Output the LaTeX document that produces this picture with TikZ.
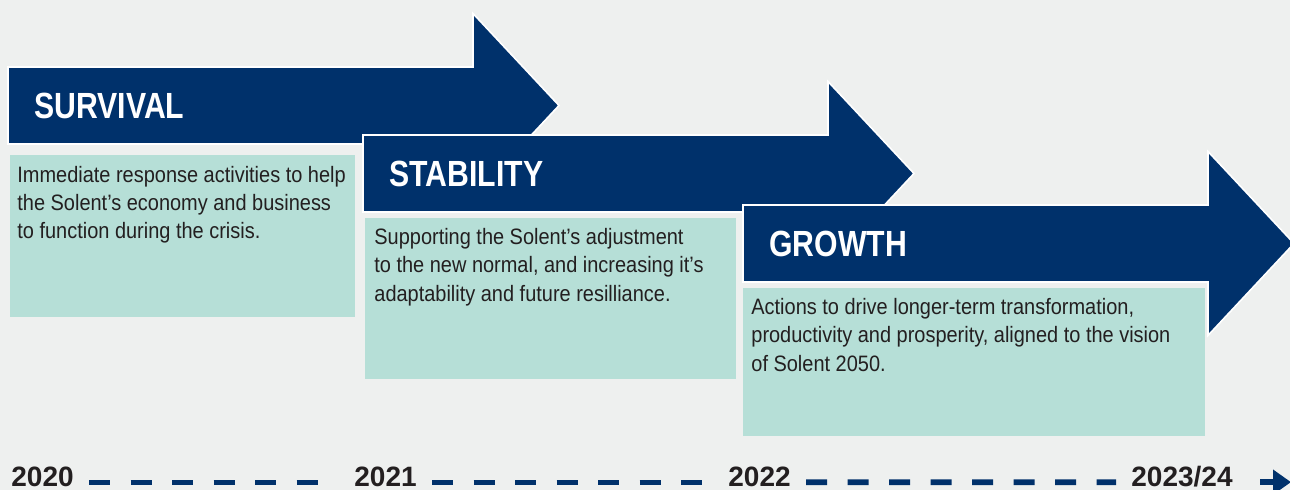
\documentclass[tikz,border=0pt]{standalone}
\usepackage{fontspec}
\usepackage{tikz}
\usepackage{xcolor}
\usetikzlibrary{arrows.meta, positioning, calc}

\setmainfont{Liberation Sans}
\newfontfamily\titlefont[FakeStretch=0.83]{Liberation Sans}
\newfontfamily\bodyfont[FakeStretch=0.895]{Liberation Sans}

\definecolor{navy}{HTML}{00316B}
\definecolor{paleteal}{HTML}{B6DFD7}
\definecolor{paper}{HTML}{EEF0EF}
\definecolor{ink}{HTML}{231F20}

\begin{document}
\begin{tikzpicture}[x=0.5pt, y=-0.5pt,
  phasearrow/.style={fill=navy, draw=white, line width=0.8pt},
  phasetitle/.style={anchor=west, inner sep=0pt, text=white, font=\titlefont\bfseries\fontsize{18.2}{20}\selectfont},
  descbox/.style={fill=paleteal},
  desc/.style={anchor=north west, inner sep=0pt, align=left, text=ink, font=\bodyfont\fontsize{11.15}{14.2}\selectfont},
  year/.style={anchor=base west, inner sep=0pt, text=ink, font=\bfseries\fontsize{14}{16}\selectfont},
  timeline/.style={navy, line width=2.85pt, dash pattern=on 10.5pt off 10.25pt,
    shorten <=7.5pt, shorten >=7.5pt, transform canvas={yshift=-2.5pt}}
]
% Background
\fill[paper] (0,0) rectangle (1290,490);
\useasboundingbox (0,0) rectangle (1290,490);

% Phase arrows
\foreach \ax/\ay/\name/\ttl in {8/67/survival/SURVIVAL, 363/135/stability/STABILITY, 743/205/growth/GROWTH} {
    \draw[phasearrow] (\ax,\ay) -- ++(465,0) -- ++(0,-53.5) -- ++(86,92) -- ++(-86,92) -- ++(0,-53.5) -- ++(-465,0) -- cycle;
    \node[phasetitle] (t-\name) at (\ax+26,\ay+38.5) {\ttl};
}

% Description boxes
\fill[descbox] (10,155) rectangle (355,317);
\node[desc] (d-survival) at (17,165.5) {Immediate response activities to help\\the Solent’s economy and business\\to function during the crisis.};

\fill[descbox] (365,218) rectangle (736,379);
\node[desc] (d-stability) at (374,228) {Supporting the Solent’s adjustment\\to the new normal, and increasing it’s\\adaptability and future resilliance.};

\fill[descbox] (743,288) rectangle (1205,436);
\node[desc] (d-growth) at (751,298) {Actions to drive longer-term transformation,\\productivity and prosperity, aligned to the vision\\of Solent 2050.};

% Timeline
\node[year] (y2020) at (11,487) {2020};
\node[year] (y2021) at (354,487) {2021};
\node[year] (y2022) at (728,487) {2022};
\node[year] (y2023) at (1131,487) {2023/24};
\coordinate (tlend) at ([xshift=29pt]y2023.east);

\draw[timeline, shorten >=16pt] (y2020) -- (y2021);
\draw[timeline] (y2021) -- (y2022);
\draw[timeline] (y2022) -- (y2023);
\draw[timeline, solid, shorten <=13.5pt, shorten >=0pt, -{Triangle[length=9pt, width=12pt]}] (y2023.east) -- (tlend);
\end{tikzpicture}
\end{document}
